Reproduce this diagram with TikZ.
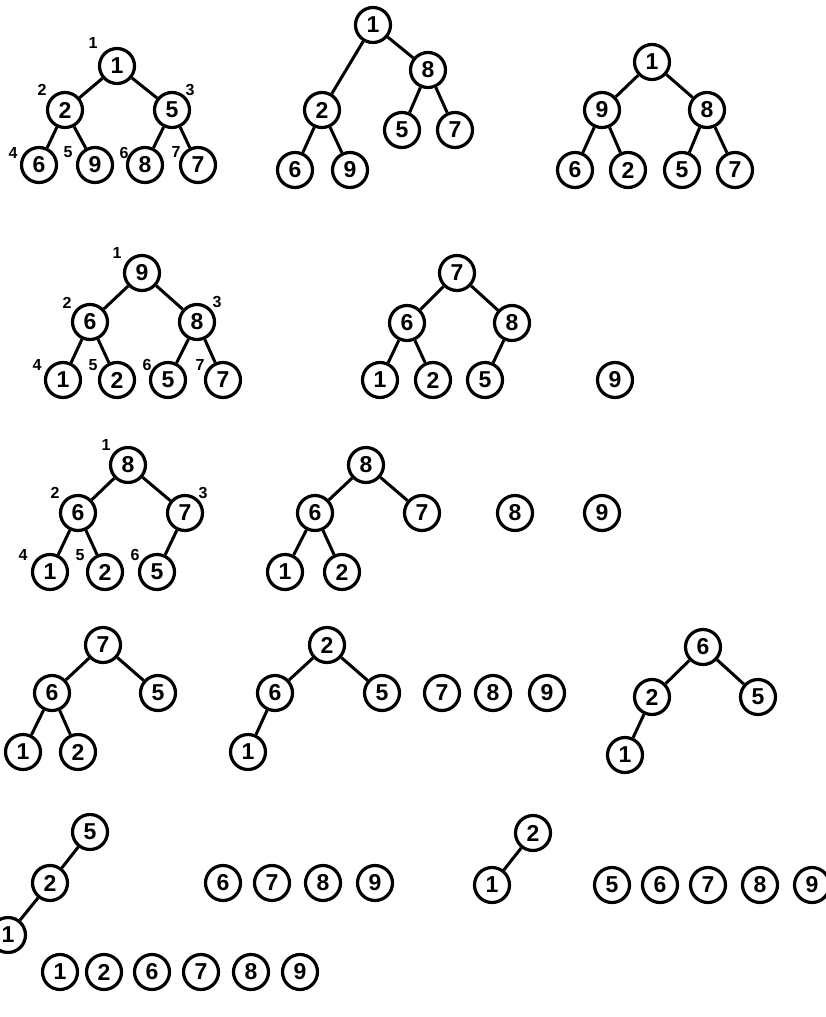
\documentclass[tikz,border=0pt]{standalone}
\usepackage{fontspec}
\setmainfont{Liberation Sans}
\begin{document}
\begin{tikzpicture}[x=1pt,y=-1pt,
  hn/.style={circle, draw, line width=3.2pt, minimum size=35pt, inner sep=0pt,
    font=\fontsize{23}{23}\selectfont\bfseries},
  ed/.style={line width=3pt},
  idx/.style={font=\fontsize{16}{16}\selectfont\bfseries, inner sep=0pt}]
\useasboundingbox (0,0) rectangle (826,1017);
\clip (0,0) rectangle (826,1017);
% ---- Tree A (indexed)
\node[hn] (a1) at (117,66) {1};
\node[hn] (a2) at (65,110) {2};
\node[hn] (a3) at (172,110) {5};
\node[hn] (a4) at (39,165) {6};
\node[hn] (a5) at (95,165) {9};
\node[hn] (a6) at (145,165) {8};
\node[hn] (a7) at (198,165) {7};
\draw[ed] (a1)--(a2) (a1)--(a3) (a2)--(a4) (a2)--(a5) (a3)--(a6) (a3)--(a7);
\node[idx] (ai1) at (93,43) {1};
\node[idx] (ai2) at (42,90) {2};
\node[idx] (ai3) at (190,90) {3};
\node[idx] (ai4) at (13,153) {4};
\node[idx] (ai5) at (68,152) {5};
\node[idx] (ai6) at (124,153) {6};
\node[idx] (ai7) at (176,152) {7};
% ---- Tree B
\node[hn] (b1) at (373,25) {1};
\node[hn] (b2) at (322,110) {2};
\node[hn] (b3) at (428,70) {8};
\node[hn] (b4) at (295,170) {6};
\node[hn] (b5) at (350,170) {9};
\node[hn] (b6) at (402,130) {5};
\node[hn] (b7) at (455,130) {7};
\draw[ed] (b1)--(b2) (b1)--(b3) (b2)--(b4) (b2)--(b5) (b3)--(b6) (b3)--(b7);
% ---- Tree C
\node[hn] (c1) at (652,62) {1};
\node[hn] (c2) at (602,110) {9};
\node[hn] (c3) at (707,110) {8};
\node[hn] (c4) at (575,170) {6};
\node[hn] (c5) at (628,170) {2};
\node[hn] (c6) at (682,170) {5};
\node[hn] (c7) at (735,170) {7};
\draw[ed] (c1)--(c2) (c1)--(c3) (c2)--(c4) (c2)--(c5) (c3)--(c6) (c3)--(c7);
% ---- Tree D (indexed)
\node[hn] (d1) at (142,273) {9};
\node[hn] (d2) at (90,322) {6};
\node[hn] (d3) at (197,322) {8};
\node[hn] (d4) at (63,380) {1};
\node[hn] (d5) at (117,380) {2};
\node[hn] (d6) at (168,380) {5};
\node[hn] (d7) at (223,380) {7};
\draw[ed] (d1)--(d2) (d1)--(d3) (d2)--(d4) (d2)--(d5) (d3)--(d6) (d3)--(d7);
\node[idx] (di1) at (117,253) {1};
\node[idx] (di2) at (67,303) {2};
\node[idx] (di3) at (217,302) {3};
\node[idx] (di4) at (37,365) {4};
\node[idx] (di5) at (93,365) {5};
\node[idx] (di6) at (147,365) {6};
\node[idx] (di7) at (200,365) {7};
% ---- Tree E
\node[hn] (e1) at (457,273) {7};
\node[hn] (e2) at (407,323) {6};
\node[hn] (e3) at (512,323) {8};
\node[hn] (e4) at (380,380) {1};
\node[hn] (e5) at (433,380) {2};
\node[hn] (e6) at (485,380) {5};
\node[hn] (e9) at (615,380) {9};
\draw[ed] (e1)--(e2) (e1)--(e3) (e2)--(e4) (e2)--(e5) (e3)--(e6);
% ---- Tree F (indexed)
\node[hn] (f1) at (128,465) {8};
\node[hn] (f2) at (78,513) {6};
\node[hn] (f3) at (185,513) {7};
\node[hn] (f4) at (50,572) {1};
\node[hn] (f5) at (105,572) {2};
\node[hn] (f6) at (157,572) {5};
\draw[ed] (f1)--(f2) (f1)--(f3) (f2)--(f4) (f2)--(f5) (f3)--(f6);
\node[idx] (fi1) at (106,445) {1};
\node[idx] (fi2) at (55,493) {2};
\node[idx] (fi3) at (203,493) {3};
\node[idx] (fi4) at (23,555) {4};
\node[idx] (fi5) at (80,555) {5};
\node[idx] (fi6) at (135,555) {6};
% ---- Tree G
\node[hn] (g1) at (366,465) {8};
\node[hn] (g2) at (315,513) {6};
\node[hn] (g3) at (422,513) {7};
\node[hn] (g4) at (285,572) {1};
\node[hn] (g5) at (342,572) {2};
\node[hn] (g8) at (515,513) {8};
\node[hn] (g9) at (602,513) {9};
\draw[ed] (g1)--(g2) (g1)--(g3) (g2)--(g4) (g2)--(g5);
% ---- Tree H
\node[hn] (h1) at (103,645) {7};
\node[hn] (h2) at (52,693) {6};
\node[hn] (h3) at (158,693) {5};
\node[hn] (h4) at (23,752) {1};
\node[hn] (h5) at (78,752) {2};
\draw[ed] (h1)--(h2) (h1)--(h3) (h2)--(h4) (h2)--(h5);
% ---- Tree I
\node[hn] (i1) at (327,645) {2};
\node[hn] (i2) at (275,693) {6};
\node[hn] (i3) at (382,693) {5};
\node[hn] (i4) at (248,752) {1};
\node[hn] (i7) at (442,693) {7};
\node[hn] (i8) at (493,693) {8};
\node[hn] (i9) at (547,693) {9};
\draw[ed] (i1)--(i2) (i1)--(i3) (i2)--(i4);
% ---- Tree J
\node[hn] (j1) at (703,647) {6};
\node[hn] (j2) at (652,697) {2};
\node[hn] (j3) at (758,697) {5};
\node[hn] (j4) at (625,755) {1};
\draw[ed] (j1)--(j2) (j1)--(j3) (j2)--(j4);
% ---- Tree K
\node[hn] (k1) at (90,832) {5};
\node[hn] (k2) at (50,883) {2};
\node[hn] (k3) at (8,935) {1};
\node[hn] (k6) at (223,883) {6};
\node[hn] (k7) at (272,883) {7};
\node[hn] (k8) at (323,883) {8};
\node[hn] (k9) at (375,883) {9};
\draw[ed] (k1)--(k2) (k2)--(k3);
% ---- Tree L
\node[hn] (l1) at (533,833) {2};
\node[hn] (l2) at (492,885) {1};
\node[hn] (l5) at (612,885) {5};
\node[hn] (l6) at (660,885) {6};
\node[hn] (l7) at (708,885) {7};
\node[hn] (l8) at (760,885) {8};
\node[hn] (l9) at (812,885) {9};
\draw[ed] (l1)--(l2);
% ---- Final row
\node[hn] (m1) at (60,972) {1};
\node[hn] (m2) at (104,972) {2};
\node[hn] (m6) at (152,972) {6};
\node[hn] (m7) at (201,972) {7};
\node[hn] (m8) at (251,972) {8};
\node[hn] (m9) at (300,972) {9};
\end{tikzpicture}
\end{document}
